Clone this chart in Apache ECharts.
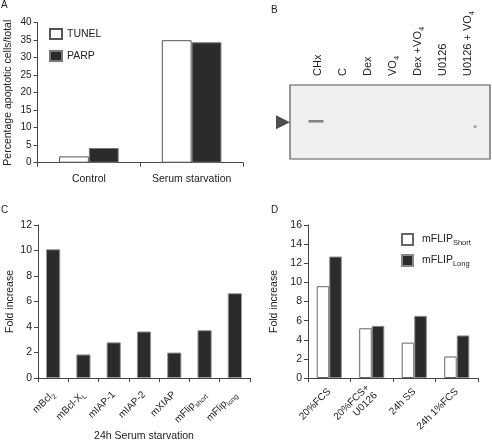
<!DOCTYPE html>
<html>
<head>
<meta charset="utf-8">
<script src="https://cdn.jsdelivr.net/npm/echarts@6/dist/echarts.min.js"></script>
<style>
  html, body { margin: 0; padding: 0; background: #ffffff; }
  #chart { width: 492px; height: 443px; }
</style>
</head>
<body>
<div id="chart"></div>
<script>
// ---------- Panel A ----------
const aCategories = ['Control', 'Serum starvation'];
const aTunel = [1.8, 35.0];
const aParp = [4.2, 34.4];

// ---------- Panel B (gel lanes) ----------
const bLanes = ['CHx', 'C', 'Dex', 'VO4', 'Dex +VO4', 'U0126', 'U0126 + VO4'];
const bBands = [['CHx', 0.51]];          // visible band (relative gel height)
const bArrow = [['CHx', 0.496]];         // arrow marks the band row
const bSpecks = [['U0126 + VO4', 0.44]]; // faint speck

// ---------- Panel C ----------
const cLabelMain = ['mBcl', 'mBcl-X', 'mIAP-1', 'mIAP-2', 'mXIAP', 'mFlip', 'mFlip'];
const cLabelSub = ['2', 'L', '', '', '', 'short', 'long'];
const cCategories = cLabelMain.map((m, i) => m + cLabelSub[i]);
const cFold = [10.1, 1.85, 2.8, 3.65, 2.0, 3.75, 6.65];

// ---------- Panel D ----------
const dCategories = ['20%FCS', '20%FCS+\nU0126', '24h SS', '24h 1%FCS'];
const dShort = [9.6, 5.2, 3.7, 2.25];
const dLong = [12.7, 5.45, 6.5, 4.45];

const FONT = "'Liberation Sans', Arial, Helvetica, sans-serif";
const AX = '#444';
const TXT = '#222';
const DARK = '#2b2b2b';

const subRich = {
  s: { fontSize: 7.5, lineHeight: 8, verticalAlign: 'top', padding: [5, 0, 0, 0], color: TXT, fontFamily: FONT }
};

function valueAxis(grid, max, interval, fs, name, gap) {
  return {
    type: 'value', gridIndex: grid, min: 0, max: max, interval: interval,
    axisLine: { show: true, lineStyle: { color: AX, width: 1 } },
    axisTick: { show: true, length: 4, lineStyle: { color: AX } },
    axisLabel: { fontSize: fs, color: TXT, margin: 6, fontFamily: FONT },
    splitLine: { show: false },
    name: name, nameLocation: 'middle', nameGap: gap,
    nameTextStyle: { fontSize: 10.5, color: TXT, fontFamily: FONT }
  };
}

const chart = echarts.init(document.getElementById('chart'), null, { renderer: 'canvas' });

const option = {
  animation: false,
  backgroundColor: '#ffffff',
  textStyle: { fontFamily: FONT },
  title: [
    { text: 'A', left: 1, top: 0, padding: 0, textStyle: { fontSize: 10, fontWeight: 'normal', color: TXT } },
    { text: 'B', left: 271, top: 5, padding: 0, textStyle: { fontSize: 10, fontWeight: 'normal', color: TXT } },
    { text: 'C', left: 1, top: 205, padding: 0, textStyle: { fontSize: 10, fontWeight: 'normal', color: TXT } },
    { text: 'D', left: 271, top: 205, padding: 0, textStyle: { fontSize: 10, fontWeight: 'normal', color: TXT } }
  ],
  legend: [
    {
      data: ['TUNEL', 'PARP'], orient: 'vertical', left: 49, top: 28, padding: 0,
      icon: 'rect', itemWidth: 12, itemHeight: 10, itemGap: 10,
      textStyle: { fontSize: 10.5, color: TXT, lineHeight: 10 }
    },
    {
      data: ['mFLIP Short', 'mFLIP Long'], orient: 'vertical', left: 401, top: 233, padding: 0,
      icon: 'rect', itemWidth: 11, itemHeight: 11, itemGap: 7,
      formatter: function (n) { return n === 'mFLIP Short' ? 'mFLIP{s|Short}' : 'mFLIP{s|Long}'; },
      textStyle: { fontSize: 10.5, color: TXT, lineHeight: 11, padding: [0, 0, 0, 4], rich: subRich }
    }
  ],
  grid: [
    { left: 37.5, top: 22.7, width: 205.5, height: 140 },
    { left: 290, top: 85, width: 200, height: 74, show: true, backgroundColor: '#efefef', borderColor: '#555', borderWidth: 1.2 },
    { left: 305.5, top: 85, width: 175, height: 74 },
    { left: 38, top: 225, width: 212, height: 153 },
    { left: 308, top: 225, width: 170, height: 153 }
  ],
  xAxis: [
    {
      type: 'category', gridIndex: 0, data: aCategories,
      axisLine: { lineStyle: { color: AX } },
      axisTick: { show: true, length: 4, lineStyle: { color: AX } },
      axisLabel: { fontSize: 10.5, color: TXT, margin: 11, interval: 0 }
    },
    { type: 'value', gridIndex: 1, min: 0, max: 1, show: false },
    {
      type: 'category', gridIndex: 2, data: bLanes, position: 'top',
      axisLine: { show: false }, axisTick: { show: false },
      axisLabel: {
        rotate: 90, margin: 9, fontSize: 11, color: TXT, interval: 0,
        formatter: function (v) { return v.replace('VO4', 'VO{s|4}'); },
        rich: { s: { fontSize: 7.5, lineHeight: 8, verticalAlign: 'top', padding: [5, 0, 0, 0], color: TXT } }
      }
    },
    {
      type: 'category', gridIndex: 3, data: cCategories,
      axisLine: { lineStyle: { color: AX } },
      axisTick: { show: true, length: 4, lineStyle: { color: AX } },
      axisLabel: {
        rotate: 45, margin: 15, fontSize: 10, color: TXT, interval: 0,
        formatter: function (v, i) { return cLabelMain[i] + (cLabelSub[i] ? '{s|' + cLabelSub[i] + '}' : ''); },
        rich: { s: { fontSize: 7, lineHeight: 8, verticalAlign: 'top', padding: [5, 0, 0, 0], color: TXT } }
      },
      name: '24h Serum starvation', nameLocation: 'middle', nameGap: 53,
      nameTextStyle: { fontSize: 10.5, color: TXT }
    },
    {
      type: 'category', gridIndex: 4, data: dCategories,
      axisLine: { lineStyle: { color: AX } },
      axisTick: { show: true, length: 4, lineStyle: { color: AX } },
      axisLabel: { rotate: 45, margin: 12, fontSize: 10, color: TXT, interval: 0, lineHeight: 11 }
    }
  ],
  yAxis: [
    valueAxis(0, 40, 5, 10, 'Percentage apoptotic cells/total', 24),
    { type: 'value', gridIndex: 1, min: 0, max: 1, show: false },
    { type: 'value', gridIndex: 2, min: 0, max: 1, show: false },
    valueAxis(3, 12, 2, 10.5, 'Fold increase', 22),
    valueAxis(4, 16, 2, 10.5, 'Fold increase', 28)
  ],
  series: [
    {
      name: 'TUNEL', type: 'bar', xAxisIndex: 0, yAxisIndex: 0, data: aTunel,
      barGap: '0%', barCategoryGap: '42%',
      itemStyle: { color: '#ffffff', borderColor: '#555', borderWidth: 1 }
    },
    {
      name: 'PARP', type: 'bar', xAxisIndex: 0, yAxisIndex: 0, data: aParp,
      barGap: '0%', barCategoryGap: '42%',
      itemStyle: { color: DARK, borderColor: '#777', borderWidth: 1 }
    },
    {
      name: 'Band', type: 'scatter', xAxisIndex: 2, yAxisIndex: 2, data: bBands,
      symbol: 'rect', symbolSize: [15, 2.5], symbolOffset: [-2, 0],
      itemStyle: { color: '#666' }
    },
    {
      name: 'Arrow', type: 'scatter', xAxisIndex: 2, yAxisIndex: 2, data: bArrow,
      symbol: 'triangle', symbolSize: [14, 14], symbolRotate: -90, symbolOffset: [-35, 0],
      itemStyle: { color: '#222' }
    },
    {
      name: 'Speck', type: 'scatter', xAxisIndex: 2, yAxisIndex: 2, data: bSpecks,
      symbol: 'circle', symbolSize: 3, symbolOffset: [7, 0],
      itemStyle: { color: '#888' }
    },
    {
      name: 'Fold increase', type: 'bar', xAxisIndex: 3, yAxisIndex: 3, data: cFold,
      barCategoryGap: '53%',
      itemStyle: { color: DARK, borderColor: '#999', borderWidth: 1 }
    },
    {
      name: 'mFLIP Short', type: 'bar', xAxisIndex: 4, yAxisIndex: 4, data: dShort,
      barGap: '0%', barCategoryGap: '41%',
      itemStyle: { color: '#ffffff', borderColor: '#666', borderWidth: 1 }
    },
    {
      name: 'mFLIP Long', type: 'bar', xAxisIndex: 4, yAxisIndex: 4, data: dLong,
      barGap: '0%', barCategoryGap: '41%',
      itemStyle: { color: DARK, borderColor: '#888', borderWidth: 1 }
    }
  ]
};

chart.setOption(option);
</script>
</body>
</html>
